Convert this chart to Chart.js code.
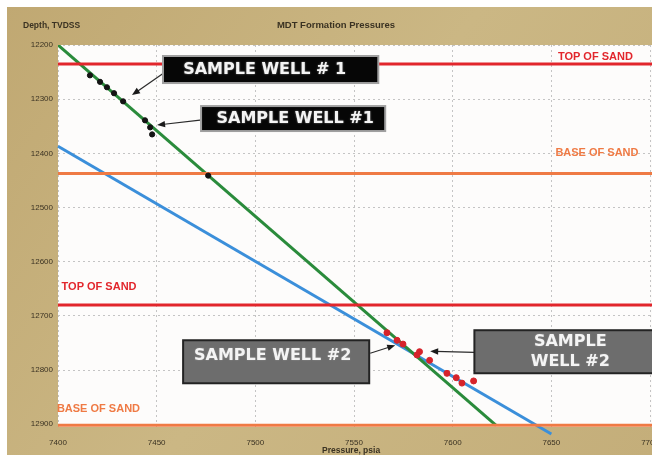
<!DOCTYPE html>
<html>
<head>
<meta charset="utf-8">
<script src="https://cdn.jsdelivr.net/npm/chart.js@4.4.0/dist/chart.umd.min.js"></script>
<style>
  html, body { margin: 0; padding: 0; background: #fff; }
</style>
</head>
<body>
<canvas id="mdt" width="652" height="455"></canvas>
<script>
// MDT Formation Pressures
// Depth (TVDSS) against formation pressure for two sample wells,
// with two pressure gradient lines and the top / base of the sand.

const well1Pressure = [7416.2, 7421.3, 7424.8, 7428.4, 7433.0, 7444.1, 7446.7, 7447.7, 7476.1];
const well1Depth    = [12256, 12268, 12278, 12289, 12304, 12339, 12352, 12365, 12441];

const well2Pressure = [7566.7, 7571.8, 7574.8, 7583.2, 7581.9, 7588.3, 7597.1, 7601.8, 7604.7, 7610.6];
const well2Depth    = [12731, 12745, 12752, 12766, 12772, 12782, 12806, 12814, 12824, 12820];

// gradient lines, end points only
const greenPressure = [7400, 7622];
const greenDepth    = [12200, 12902];
const bluePressure  = [7400, 7650];
const blueDepth     = [12387, 12918];

const topOfSand  = [12235, 12680];
const baseOfSand = [12437, 12902];

const xTicks = [7400, 7450, 7500, 7550, 7600, 7650, 7700];
const yTicks = [12200, 12300, 12400, 12500, 12600, 12700, 12800, 12900];
const xMin = 7400, xMax = 7701;
const yMin = 12200, yMax = 12905;

const pts = (xs, ys) => xs.map((x, i) => ({ x: x, y: ys[i] }));
const flat = d => pts([xMin, xMax], [d, d]);

const RED = '#e2262c';
const ORANGE = '#ef7a44';
const INK = '#3a3222';

// text labels sitting on the sand markers (anchored in data units)
const sandLabels = [
    { text: 'TOP OF SAND',  color: RED,    p: 7672.3, d: 12222 },
    { text: 'BASE OF SAND', color: ORANGE, p: 7673.1, d: 12399.5 },
    { text: 'TOP OF SAND',  color: RED,    p: 7420.8, d: 12647 },
    { text: 'BASE OF SAND', color: ORANGE, p: 7420.5, d: 12871.4 }
];

// call-out boxes: box = [p0, d0, p1, d1], arrow = [p from, d from, p to, d to]
const callouts = [
    { lines: ['SAMPLE WELL # 1'], fill: '#060606', edge: '#a0a0a0',
      box: [7453.2, 12220.3, 7562.3, 12270.2], text: [7504.7, 12245.3],
      arrow: [7454.3, 12249.9, 7437.5, 12292.4] },
    { lines: ['SAMPLE WELL #1'], fill: '#060606', edge: '#a0a0a0',
      box: [7472.5, 12312.7, 7565.8, 12358.8], text: [7520.2, 12335.8],
      arrow: [7472.0, 12338.5, 7450.2, 12347.8] },
    { lines: ['SAMPLE WELL #2'], fill: '#6d6d6d', edge: '#232323',
      box: [7463.4, 12744.9, 7557.7, 12824.3], text: [7508.8, 12774.4],
      arrow: [7558.2, 12768.9, 7570.9, 12754.1] },
    { lines: ['SAMPLE', 'WELL #2'], fill: '#6d6d6d', edge: '#232323',
      box: [7611.0, 12726.4, 7710, 12805.8], text: [7659.6, 12767.1],
      arrow: [7611.0, 12767.1, 7588.6, 12765.2] }
];

const paperPlugin = {
    id: 'paper',
    beforeDraw(chart) {
        const c = chart.ctx, a = chart.chartArea;
        c.save();
        c.fillStyle = '#ffffff';
        c.fillRect(0, 0, chart.width, chart.height);
        const g = c.createLinearGradient(0, 0, chart.width, chart.height);
        g.addColorStop(0, '#c0a872');
        g.addColorStop(0.5, '#cbb784');
        g.addColorStop(1, '#c4ae7a');
        c.fillStyle = g;
        c.fillRect(7, 7, chart.width - 7, chart.height - 7);
        c.fillStyle = '#fdfcfb';
        c.fillRect(a.left, a.top, a.right - a.left, a.bottom - a.top);
        c.restore();
    },
    afterDraw(chart) {
        const c = chart.ctx, xs = chart.scales.x, ys = chart.scales.y;
        const px = v => xs.getPixelForValue(v), py = v => ys.getPixelForValue(v);
        c.save();

        // titles
        c.fillStyle = INK;
        c.textBaseline = 'middle';
        c.font = 'bold 9.5px "Liberation Sans", Arial, sans-serif';
        c.textAlign = 'center';
        c.fillText('MDT Formation Pressures', 336, 25);
        c.font = 'bold 8.5px "Liberation Sans", Arial, sans-serif';
        c.textAlign = 'left';
        c.fillText('Depth, TVDSS', 23, 26);
        c.fillText('Pressure, psia', 322, 451);

        // sand marker labels
        c.font = 'bold 11px "Liberation Sans", Arial, sans-serif';
        c.textAlign = 'center';
        sandLabels.forEach(l => {
            c.fillStyle = l.color;
            c.fillText(l.text, px(l.p), py(l.d));
        });

        // call-outs
        callouts.forEach(co => {
            const [p0, d0, p1, d1] = co.box;
            const x0 = px(p0), y0 = py(d0), x1 = px(p1), y1 = py(d1);

            // arrow
            const [ap, ad, bp, bd] = co.arrow;
            const ax = px(ap), ay = py(ad), bx = px(bp), by = py(bd);
            const ang = Math.atan2(by - ay, bx - ax);
            c.strokeStyle = '#2a2a2a';
            c.fillStyle = '#1a1a1a';
            c.lineWidth = 1.2;
            c.beginPath();
            c.moveTo(ax, ay);
            c.lineTo(bx - 5 * Math.cos(ang), by - 5 * Math.sin(ang));
            c.stroke();
            c.beginPath();
            c.moveTo(bx, by);
            c.lineTo(bx - 8 * Math.cos(ang) + 3.2 * Math.sin(ang), by - 8 * Math.sin(ang) - 3.2 * Math.cos(ang));
            c.lineTo(bx - 8 * Math.cos(ang) - 3.2 * Math.sin(ang), by - 8 * Math.sin(ang) + 3.2 * Math.cos(ang));
            c.closePath();
            c.fill();

            // box
            c.fillStyle = co.fill;
            c.fillRect(x0, y0, x1 - x0, y1 - y0);
            c.strokeStyle = co.edge;
            c.lineWidth = 2;
            c.strokeRect(x0, y0, x1 - x0, y1 - y0);

            // text
            const tx = px(co.text[0]), ty = py(co.text[1]);
            c.font = 'bold 16px "DejaVu Sans", Verdana, sans-serif';
            c.textAlign = 'center';
            c.textBaseline = 'middle';
            c.shadowColor = 'rgba(150,150,150,0.9)';
            c.shadowBlur = 2;
            c.fillStyle = '#f4f4f4';
            const n = co.lines.length;
            co.lines.forEach((t, i) => c.fillText(t, tx, ty + (i - (n - 1) / 2) * 20));
            c.shadowBlur = 0;
            c.shadowColor = 'transparent';
        });
        c.restore();
    }
};

const lineSet = (data, color, width, extra) => Object.assign({
    type: 'line',
    data: data,
    borderColor: color,
    borderWidth: width,
    pointRadius: 0,
    showLine: true,
    fill: false,
    tension: 0
}, extra || {});

const datasets = [
    {
        label: 'sample well #1',
        data: pts(well1Pressure, well1Depth),
        backgroundColor: '#141414',
        borderColor: '#141414',
        pointRadius: 2.6,
        showLine: false
    },
    {
        label: 'sample well #2',
        data: pts(well2Pressure, well2Depth),
        backgroundColor: '#d6232b',
        borderColor: '#d6232b',
        pointRadius: 3,
        showLine: false
    },
    lineSet(flat(topOfSand[0]), RED, 3),
    lineSet(flat(topOfSand[1]), RED, 3),
    lineSet(flat(baseOfSand[0]), ORANGE, 3),
    lineSet(flat(baseOfSand[1]), ORANGE, 3),
    lineSet(pts(greenPressure, greenDepth), '#2a8b3b', 3),
    lineSet(pts(bluePressure, blueDepth), '#3b8fda', 3, { clip: false })
];

const tickFont = { family: '"Liberation Sans", Arial, sans-serif', size: 8 };

new Chart(document.getElementById('mdt'), {
    type: 'scatter',
    data: { datasets: datasets },
    options: {
        responsive: false,
        animation: false,
        events: [],
        layout: { autoPadding: false, padding: { top: 45, left: 0, right: 0, bottom: 0 } },
        plugins: {
            legend: { display: false },
            tooltip: { enabled: false }
        },
        scales: {
            x: {
                type: 'linear',
                min: xMin,
                max: xMax,
                afterBuildTicks: s => { s.ticks = xTicks.map(v => ({ value: v })); },
                ticks: {
                    padding: 11,
                    color: INK,
                    font: tickFont,
                    autoSkip: false,
                    maxRotation: 0,
                    callback: v => String(v)
                },
                grid: { color: '#c4c4c4', lineWidth: 1, drawTicks: false },
                border: { display: false, dash: [2, 3] },
                afterFit: s => { s.height = 28; s.paddingLeft = 0; s.paddingRight = 0; }
            },
            y: {
                type: 'linear',
                reverse: true,
                min: yMin,
                max: yMax,
                afterBuildTicks: s => { s.ticks = yTicks.map(v => ({ value: v })); },
                ticks: {
                    padding: 5,
                    color: INK,
                    font: tickFont,
                    autoSkip: false,
                    callback: v => String(v)
                },
                grid: { color: '#c4c4c4', lineWidth: 1, drawTicks: false },
                border: { display: false, dash: [2, 3] },
                afterFit: s => { s.width = 58; s.paddingTop = 0; s.paddingBottom = 0; }
            }
        }
    },
    plugins: [paperPlugin]
});
</script>
</body>
</html>
